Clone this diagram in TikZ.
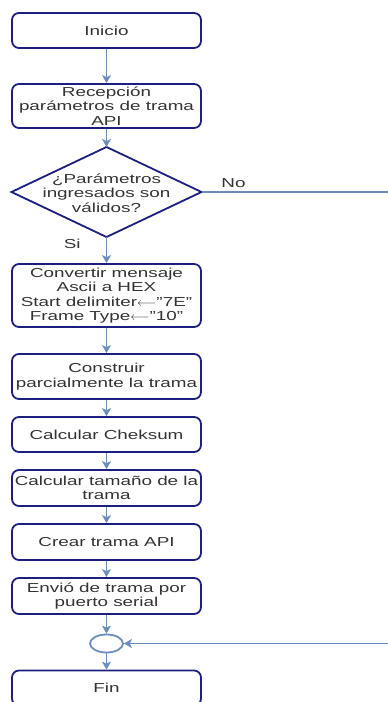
\documentclass[tikz,border=0pt]{standalone}
\usepackage{fontspec}
\setmainfont{Liberation Sans}[FakeStretch=1.45]
\usetikzlibrary{arrows.meta,shapes.geometric}
\definecolor{boxline}{RGB}{28,30,128}
\definecolor{flow}{RGB}{108,142,191}
\definecolor{txt}{RGB}{51,51,51}
\begin{document}
\begin{tikzpicture}[x=1pt,y=-1pt,
  font=\fontsize{13}{14.3}\selectfont, text=txt,
  procbox/.style={draw=boxline, line width=1.8pt, rounded corners=7pt,
    minimum width=189pt, inner sep=0pt, align=center, fill=white},
  decisiontext/.style={inner sep=0pt, align=center},
  outline/.style={draw=boxline, line width=1.8pt, line join=miter},
  joint/.style={draw=flow, line width=1.8pt, ellipse, minimum width=33pt,
    minimum height=18pt, inner sep=0pt},
  conn/.style={draw=flow, line width=1.2pt, -{Stealth[length=8pt,width=9pt,inset=2pt]}},
  plain/.style={draw=flow, line width=1.2pt},
  lbl/.style={font=\fontsize{13}{14.3}\selectfont, text=txt}
]
\useasboundingbox (0,0) rectangle (388,702);
\clip (0,0) rectangle (388,702);

\node[procbox, minimum height=35pt] (inicio) at (106.5,30.5) {Inicio};
\node[procbox, minimum height=44pt] (recep) at (106.5,106) {Recepción\\parámetros de trama\\API};

% decision: diamond outline with its text in the middle
\coordinate (dtop) at (106.5,147);
\coordinate (dright) at (201.5,192);
\coordinate (dbottom) at (106.5,237);
\coordinate (dleft) at (11.5,192);
\draw[outline] (dtop) -- (dright) -- (dbottom) -- (dleft) -- cycle;
\node[decisiontext] (valid) at (106.5,193) {¿Parámetros\\ingresados son\\válidos?};

\node[procbox, minimum height=63pt] (conv) at (106.5,295.5)
  {Convertir mensaje\\Ascii a HEX\\Start delimiter$\longleftarrow$"7E"\\Frame Type$\longleftarrow$"10"};
\node[procbox, minimum height=45pt] (constr) at (106.5,376.5) {Construir\\parcialmente la trama};
\node[procbox, minimum height=35pt] (check) at (106.5,434.5) {Calcular Cheksum};
\node[procbox, minimum height=36pt] (tam) at (106.5,488) {Calcular tamaño de la\\trama};
\node[procbox, minimum height=36pt] (crear) at (106.5,542) {Crear trama API};
\node[procbox, minimum height=36pt] (envio) at (106.5,596) {Envió de trama por\\puerto serial};
\node[joint] (merge) at (106.5,643.5) {};
\node[procbox, minimum height=35pt] (fin) at (106.5,688) {Fin};

\coordinate (noend) at (390,192);
\coordinate (backin) at (390,643.5);

\draw[conn] (inicio) -- (recep);
\draw[conn] (recep) -- (dtop);
\draw[plain] (dright) -- node[lbl, above, pos=0.17, yshift=0pt] {No} (noend);
\draw[conn] (dbottom) -- node[lbl, left, pos=0.25, xshift=-22pt] {Si} (conv);
\draw[conn] (conv) -- (constr);
\draw[conn] (constr) -- (check);
\draw[conn] (check) -- (tam);
\draw[conn] (tam) -- (crear);
\draw[conn] (crear) -- (envio);
\draw[conn] (envio) -- (merge);
\draw[conn] (backin) -- (merge);
\draw[conn] (merge) -- (fin);
\end{tikzpicture}
\end{document}
